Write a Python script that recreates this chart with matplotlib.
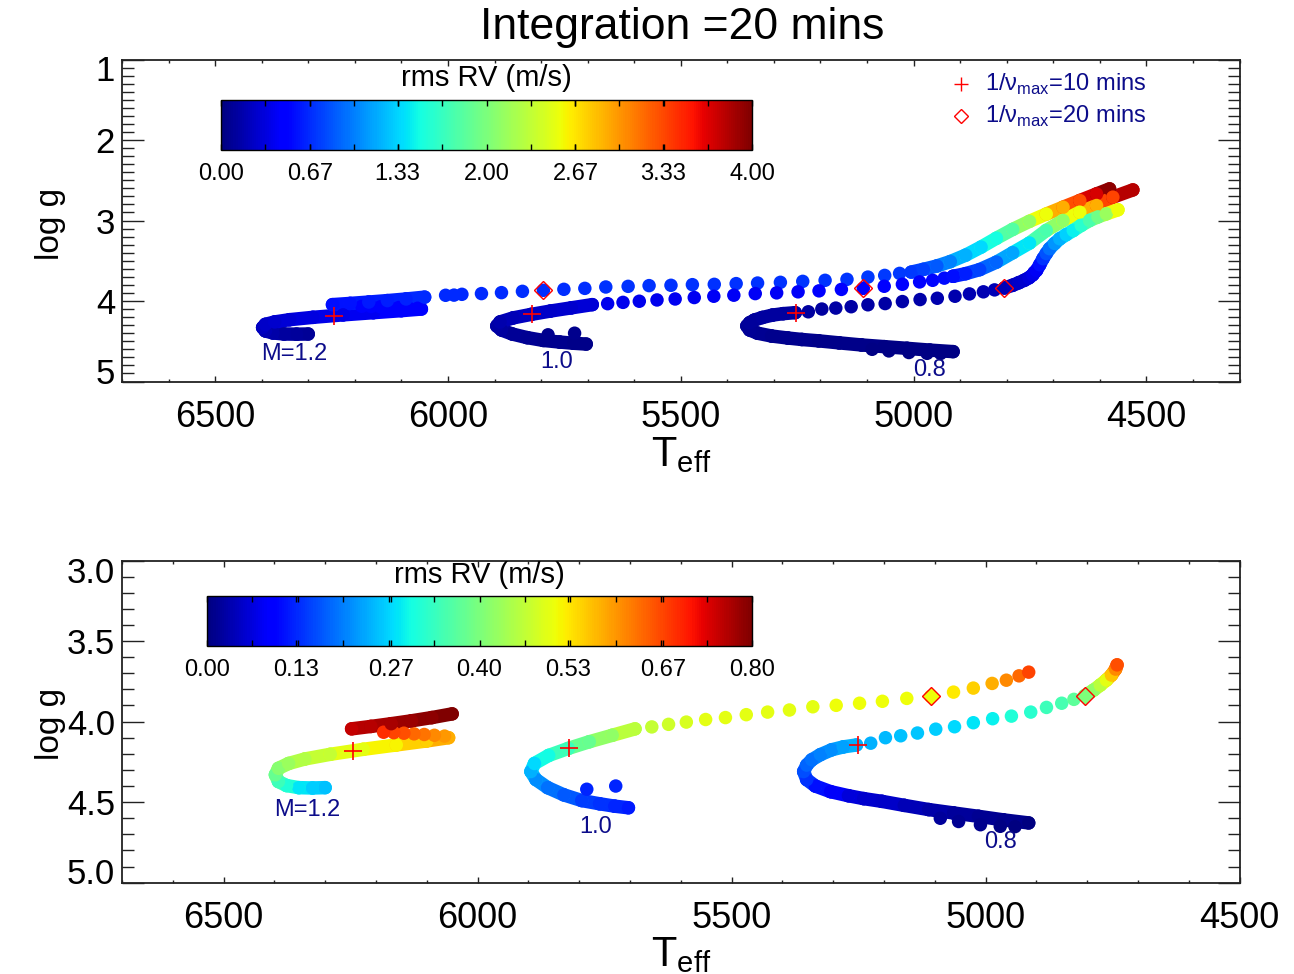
import numpy as np
import matplotlib
matplotlib.use('Agg')
import matplotlib.pyplot as plt
from matplotlib import font_manager
from matplotlib.collections import LineCollection
from matplotlib.ticker import MultipleLocator, FixedLocator, FormatStrFormatter
from matplotlib.transforms import ScaledTranslation
from matplotlib.cm import ScalarMappable
from matplotlib.colors import Normalize

# ---------------- data ----------------
# M = 1.2 track
m12_ms_T = [6300, 6325, 6352, 6376, 6392, 6398, 6392, 6372, 6340, 6290, 6225, 6160, 6100, 6057]
m12_ms_g = [4.41, 4.412, 4.41, 4.397, 4.372, 4.33, 4.29, 4.26, 4.232, 4.203, 4.172, 4.145, 4.12, 4.10]
m12_ms_top = [0.09, 0.1, 0.12, 0.15, 0.18, 0.22, 0.25, 0.28, 0.31, 0.34, 0.37, 0.4, 0.45, 0.5]
m12_ms_bot = [0.25, 0.26, 0.28, 0.31, 0.34, 0.38, 0.41, 0.43, 0.45, 0.47, 0.5, 0.52, 0.55, 0.58]

m12_ret_T = [6065, 6085, 6105, 6125, 6145, 6165, 6185]
m12_ret_g = [4.09, 4.085, 4.08, 4.076, 4.072, 4.069, 4.066]
m12_ret_top = [0.48, 0.48, 0.49, 0.49, 0.5, 0.5, 0.51]
m12_ret_bot = [0.6, 0.61, 0.63, 0.64, 0.66, 0.67, 0.69]

m12_ub_T = [6248, 6210, 6170, 6130, 6090, 6050]
m12_ub_g = [4.045, 4.03, 4.013, 3.995, 3.975, 3.952]
m12_ub_top = [0.55, 0.57, 0.6, 0.62, 0.64, 0.66]
m12_ub_bot = [0.75, 0.76, 0.77, 0.78, 0.79, 0.8]

m12_sg_T = [6005, 5987, 5970, 5928, 5885, 5840, 5795, 5751, 5706, 5661, 5613, 5568, 5521,
            5475, 5428, 5381, 5335, 5286, 5238, 5190, 5143, 5098, 5062, 5030]
m12_sg_g = [3.929, 3.927, 3.917, 3.908, 3.896, 3.88, 3.867, 3.855, 3.843, 3.826, 3.818, 3.809, 3.805,
            3.797, 3.793, 3.784, 3.777, 3.768, 3.756, 3.743, 3.731, 3.703, 3.682, 3.657]
m12_sg_top = [0.66, 0.66, 0.67, 0.67, 0.67, 0.68, 0.68, 0.68, 0.68, 0.69, 0.69, 0.69, 0.69,
              0.7, 0.7, 0.7, 0.7, 0.7, 0.71, 0.71, 0.71, 0.72, 0.72, 0.72]

m12_rg_T = [5005, 4979, 4950, 4921, 4888, 4855, 4822, 4787, 4751, 4715, 4679, 4643, 4607, 4579]
m12_rg_g = [3.641, 3.607, 3.565, 3.51, 3.43, 3.33, 3.22, 3.11, 3.01, 2.92, 2.835, 2.752, 2.67, 2.607]
m12_rg_top = [0.72, 0.76, 0.85, 1.0, 1.2, 1.35, 1.5, 1.8, 2.1, 2.55, 2.9, 3.3, 3.7, 3.95]

# M = 1.0 track
m10_ms_T = [5703, 5730, 5760, 5795, 5830, 5862, 5885, 5895, 5888, 5860, 5821, 5780, 5735, 5690]
m10_ms_g = [4.535, 4.525, 4.51, 4.49, 4.455, 4.41, 4.36, 4.31, 4.26, 4.21, 4.166, 4.125, 4.085, 4.045]
m10_ms_top = [0.04, 0.04, 0.05, 0.06, 0.07, 0.09, 0.11, 0.13, 0.16, 0.19, 0.22, 0.25, 0.28, 0.3]
m10_ms_bot = [0.12, 0.13, 0.14, 0.15, 0.17, 0.19, 0.21, 0.24, 0.27, 0.3, 0.34, 0.38, 0.42, 0.46]

m10_x_T = [5785, 5728]
m10_x_g = [4.42, 4.40]
m10_x_top = [0.05, 0.05]
m10_x_bot = [0.13, 0.13]

m10_sg_T = [5657, 5624, 5589, 5551, 5512, 5471, 5429, 5386, 5340, 5294, 5248, 5203, 5155, 5108,
            5063, 5024, 4987, 4959, 4934, 4915]
m10_sg_g = [4.033, 4.017, 4.003, 3.987, 3.975, 3.957, 3.941, 3.928, 3.908, 3.899, 3.886, 3.874, 3.856, 3.843,
            3.817, 3.792, 3.763, 3.743, 3.716, 3.693]
m10_sg_top = [0.38, 0.38, 0.39, 0.39, 0.4, 0.4, 0.41, 0.41, 0.42, 0.42, 0.43, 0.44, 0.45, 0.46,
              0.47, 0.48, 0.5, 0.52, 0.54, 0.56]
m10_sg_bot = [0.47, 0.48, 0.49, 0.5, 0.5, 0.5, 0.5, 0.5, 0.5, 0.51, 0.51, 0.51, 0.51, 0.51,
              0.53, 0.55, 0.58, 0.61, 0.64, 0.67]

m10_rg_T = [4915, 4888, 4858, 4822, 4787, 4751, 4715, 4679, 4643, 4607, 4572, 4529]
m10_rg_g = [3.693, 3.66, 3.61, 3.517, 3.40, 3.28, 3.124, 3.0, 2.897, 2.814, 2.71, 2.62]
m10_rg_top = [0.56, 0.62, 0.75, 0.9, 1.15, 1.4, 1.75, 2.1, 2.55, 2.9, 3.35, 3.8]

# M = 0.8 track
m08_ms_T = [4915, 4965, 5014, 5063, 5112, 5160, 5204, 5240, 5270, 5305, 5335, 5352, 5358, 5352,
            5342, 5325, 5303, 5280, 5254]
m08_ms_g = [4.629, 4.61, 4.588, 4.567, 4.546, 4.52, 4.495, 4.478, 4.46, 4.435, 4.40, 4.36, 4.31, 4.27,
            4.237, 4.205, 4.175, 4.157, 4.145]
m08_ms_top = [0.03, 0.03, 0.03, 0.03, 0.04, 0.04, 0.04, 0.05, 0.05, 0.06, 0.07, 0.08, 0.09, 0.1,
              0.1, 0.11, 0.11, 0.12, 0.12]
m08_ms_bot = [0.0, 0.01, 0.015, 0.02, 0.03, 0.04, 0.05, 0.055, 0.065, 0.085, 0.11, 0.14, 0.16, 0.18,
              0.19, 0.2, 0.21, 0.225, 0.24]

m08_x_T = [5089, 5053, 5010, 4971, 4942]
m08_x_g = [4.60, 4.62, 4.64, 4.65, 4.652]
m08_x_top = [0.03, 0.03, 0.03, 0.03, 0.03]
m08_x_bot = [0.02, 0.015, 0.01, 0.005, 0.0]

m08_sg_T = [5226, 5197, 5167, 5134, 5098, 5061, 5024, 4986, 4949, 4911, 4880, 4850, 4826]
m08_sg_g = [4.134, 4.1, 4.088, 4.071, 4.047, 4.032, 4.007, 3.982, 3.966, 3.941, 3.912, 3.886, 3.862]
m08_sg_top = [0.12, 0.12, 0.13, 0.13, 0.14, 0.14, 0.15, 0.15, 0.16, 0.17, 0.18, 0.18, 0.19]
m08_sg_bot = [0.24, 0.245, 0.25, 0.255, 0.26, 0.27, 0.28, 0.29, 0.31, 0.32, 0.34, 0.35, 0.37]

m08_rg_T = [4805, 4787, 4774, 4762, 4752, 4744, 4741, 4736, 4729, 4722, 4715, 4708, 4697, 4686,
            4672, 4657, 4640, 4622, 4604, 4586, 4561]
m08_rg_g = [3.839, 3.804, 3.773, 3.742, 3.711, 3.674, 3.648, 3.62, 3.55, 3.474, 3.41, 3.35, 3.285, 3.227,
            3.175, 3.124, 3.06, 3.0, 2.955, 2.917, 2.867]
m08_rg_top = [0.2, 0.22, 0.25, 0.28, 0.32, 0.36, 0.39, 0.42, 0.55, 0.7, 0.82, 0.95, 1.08, 1.2,
              1.32, 1.45, 1.6, 1.75, 1.95, 2.15, 2.55]
m08_rg_bot = [0.40, 0.42, 0.46, 0.5, 0.56, 0.61, 0.66] + [np.nan] * 14

# nu_max markers
cross_T = [6245, 5820, 5252]
cross_g = [4.183, 4.166, 4.147]
diam_T = [5795, 5108, 4805]
diam_g = [3.867, 3.843, 3.839]
diam_bot = [np.nan, 0.51, 0.40]

# labels
mass_labels = ['M=1.2', '1.0', '0.8']
top_ticks = [0.00, 0.67, 1.33, 2.00, 2.67, 3.33, 4.00]
bot_ticks = [0.00, 0.13, 0.27, 0.40, 0.53, 0.67, 0.80]

# ---------------- style ----------------
_names = {f.name for f in font_manager.fontManager.ttflist}
BASE = 'Liberation Sans'
NARROW = 'Liberation Sans Narrow' if 'Liberation Sans Narrow' in _names else BASE
XTICK = 28 if NARROW != BASE else 26
YTICK = 27 if NARROW != BASE else 25
plt.rcParams['font.family'] = [BASE, 'DejaVu Sans']
plt.rcParams['mathtext.fontset'] = 'custom'
plt.rcParams['mathtext.rm'] = BASE
NAVY = '#0c0c8a'

W, H = 1294, 974
fig = plt.figure(figsize=(W / 100, H / 100), dpi=100)


def fx(px):
    return px / W


def fy(py):
    return 1 - py / H


ax1 = fig.add_axes([fx(122), fy(381.5), (1239.5 - 122) / W, (381.5 - 59.5) / H])
ax2 = fig.add_axes([fx(122), fy(882.7), (1239.5 - 122) / W, (882.7 - 560.5) / H])

cmap = plt.get_cmap('jet')
norm1 = Normalize(0, 4)
norm2 = Normalize(0, 0.8)
LW = 9.7
S = LW ** 2


def draw(ax, T, g, v, norm, dense):
    T = np.asarray(T, float)
    g = np.asarray(g, float)
    v = np.asarray(v, float)
    ok = np.isfinite(v)
    T, g, v = T[ok], g[ok], v[ok]
    if len(T) == 0:
        return
    if dense and len(T) > 1:
        pts = np.column_stack([T, g])
        segs = np.stack([pts[:-1], pts[1:]], axis=1)
        lc = LineCollection(segs, cmap=cmap, norm=norm, linewidths=LW,
                            capstyle='round', joinstyle='round', zorder=2)
        lc.set_array(v[1:])
        ax.add_collection(lc)
    ax.scatter(T, g, c=v, cmap=cmap, norm=norm, s=S, edgecolors='none', zorder=2.5)


# top panel
draw(ax1, m12_ms_T, m12_ms_g, m12_ms_top, norm1, True)
draw(ax1, m12_ret_T, m12_ret_g, m12_ret_top, norm1, False)
draw(ax1, m12_ub_T, m12_ub_g, m12_ub_top, norm1, True)
draw(ax1, m12_sg_T, m12_sg_g, m12_sg_top, norm1, False)
draw(ax1, m12_rg_T, m12_rg_g, m12_rg_top, norm1, True)
draw(ax1, m10_ms_T, m10_ms_g, m10_ms_top, norm1, True)
draw(ax1, m10_x_T, m10_x_g, m10_x_top, norm1, False)
draw(ax1, m10_sg_T, m10_sg_g, m10_sg_top, norm1, False)
draw(ax1, m10_rg_T, m10_rg_g, m10_rg_top, norm1, True)
draw(ax1, m08_ms_T, m08_ms_g, m08_ms_top, norm1, True)
draw(ax1, m08_x_T, m08_x_g, m08_x_top, norm1, False)
draw(ax1, m08_sg_T, m08_sg_g, m08_sg_top, norm1, False)
draw(ax1, m08_rg_T, m08_rg_g, m08_rg_top, norm1, True)
ax1.plot(cross_T, cross_g, '+', color='red', ms=13, mew=1.2, ls='none', zorder=5)
ax1.plot(diam_T, diam_g, 'D', mfc='none', mec='red', ms=9.2, mew=1.0, ls='none', zorder=5)

# bottom panel
draw(ax2, m12_ms_T, m12_ms_g, m12_ms_bot, norm2, True)
draw(ax2, m12_ret_T, m12_ret_g, m12_ret_bot, norm2, False)
draw(ax2, m12_ub_T, m12_ub_g, m12_ub_bot, norm2, True)
draw(ax2, m10_ms_T, m10_ms_g, m10_ms_bot, norm2, True)
draw(ax2, m10_x_T, m10_x_g, m10_x_bot, norm2, False)
draw(ax2, m10_sg_T, m10_sg_g, m10_sg_bot, norm2, False)
draw(ax2, m08_ms_T, m08_ms_g, m08_ms_bot, norm2, True)
draw(ax2, m08_x_T, m08_x_g, m08_x_bot, norm2, False)
draw(ax2, m08_sg_T, m08_sg_g, m08_sg_bot, norm2, False)
draw(ax2, m08_rg_T, m08_rg_g, m08_rg_bot, norm2, True)
ax2.plot(cross_T, cross_g, '+', color='red', ms=13, mew=1.2, ls='none', zorder=5)
for t, g, v in zip(diam_T, diam_g, diam_bot):
    if np.isfinite(v):
        ax2.plot([t], [g], 'D', mfc=cmap(norm2(v)), mec='red', ms=9.2, mew=1.0, ls='none', zorder=5)

# mass labels
for ax, pos in ((ax1, [(6329, 4.66), (5766, 4.76), (4966, 4.86)]),
                (ax2, [(6335, 4.546), (5768, 4.652), (4970, 4.75)])):
    for lab, (t, g) in zip(mass_labels, pos):
        ax.text(t, g, lab, color=NAVY, fontsize=17, ha='center', va='center', zorder=6)

# legend (top panel)
ax1.plot([0.751], [0.924], '+', color='red', ms=10, mew=1.0, transform=ax1.transAxes, clip_on=False)
ax1.plot([0.751], [0.824], 'D', mfc='none', mec='red', ms=7, mew=1.0, transform=ax1.transAxes,
         clip_on=False)
ax1.text(0.772, 0.924, '1/ν$_\\mathregular{max}$=10 mins', transform=ax1.transAxes, color=NAVY,
         fontsize=17, va='center', ha='left')
ax1.text(0.772, 0.824, '1/ν$_\\mathregular{max}$=20 mins', transform=ax1.transAxes, color=NAVY,
         fontsize=17, va='center', ha='left')


# axes styling
def style(ax, xlim, ylim, ylocs, yfmt):
    ax.set_xlim(*xlim)
    ax.set_ylim(*ylim)
    ax.xaxis.set_major_locator(MultipleLocator(500))
    ax.xaxis.set_minor_locator(MultipleLocator(100))
    ax.yaxis.set_major_locator(FixedLocator(ylocs))
    ax.yaxis.set_minor_locator(MultipleLocator(0.1))
    ax.yaxis.set_major_formatter(FormatStrFormatter(yfmt))
    ax.tick_params(which='both', direction='in', top=True, right=True, width=1.0, color='#222222')
    ax.tick_params(axis='x', which='major', length=4.5, pad=13, labelsize=XTICK,
                   labelfontfamily=NARROW)
    ax.tick_params(axis='x', which='minor', length=2.5)
    ax.tick_params(axis='y', which='major', length=16, pad=5, labelsize=YTICK,
                   labelfontfamily=NARROW)
    ax.tick_params(axis='y', which='minor', length=8.5)
    for sp in ax.spines.values():
        sp.set_linewidth(1.3)
        sp.set_color('#222222')


style(ax1, (6700, 4300), (5, 1), [1, 2, 3, 4, 5], '%d')
style(ax2, (6700, 4500), (5, 3), [3.0, 3.5, 4.0, 4.5, 5.0], '%.1f')


def shift(ax, idx, dy_px):
    lab = ax.yaxis.get_major_ticks()[idx].label1
    lab.set_transform(lab.get_transform() + ScaledTranslation(0, dy_px / 100, fig.dpi_scale_trans))


shift(ax1, 0, -8.5)
shift(ax1, 4, 11)
shift(ax2, 0, -9.5)
shift(ax2, 4, 11.7)

# axis labels
for ycen in (455, 955):
    fig.text(fx(681), fy(ycen), 'T$_\\mathregular{eff}$', fontsize=30, family=[NARROW, 'DejaVu Sans'],
             ha='center', va='center')
for ycen in (224, 724):
    fig.text(fx(50), fy(ycen), 'log g', fontsize=24, family=[NARROW, 'DejaVu Sans'], rotation=90,
             ha='center', va='center')

# title
fig.text(fx(682), fy(27), 'Integration =20 mins', fontsize=32, ha='center', va='center')


# colorbars
def cbar(x0, x1, y0, y1, norm, ticks, title_y):
    cax = fig.add_axes([fx(x0), fy(y1), (x1 - x0) / W, (y1 - y0) / H])
    cb = fig.colorbar(ScalarMappable(norm=norm, cmap=cmap), cax=cax, orientation='horizontal')
    cb.outline.set_linewidth(1.0)
    cb.set_ticks(ticks)
    cb.set_ticklabels(['%.2f' % t for t in ticks])
    lo, hi = norm.vmin, norm.vmax
    cax.xaxis.set_minor_locator(FixedLocator([lo + (hi - lo) * k / 12 for k in range(13)]))
    cax.tick_params(which='both', direction='in', top=True, bottom=True, length=4, width=1.0,
                    color='black')
    cax.tick_params(axis='x', which='major', labelsize=17, pad=9)
    fig.text(fx((x0 + x1) / 2), fy(title_y), 'rms RV (m/s)', fontsize=21, ha='center', va='center')
    return cax


cbar(221, 752, 100, 150, norm1, top_ticks, 78)
cbar(207, 752, 596, 646, norm2, bot_ticks, 575)

fig.savefig('out.png', dpi=100)
